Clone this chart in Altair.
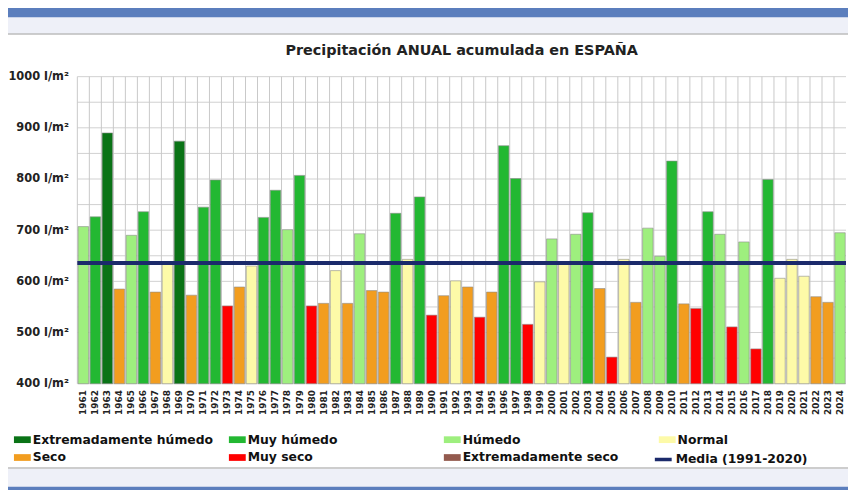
import altair as alt
import pandas as pd

years = ["1961", "1962", "1963", "1964", "1965", "1966", "1967", "1968", "1969", "1970",
         "1971", "1972", "1973", "1974", "1975", "1976", "1977", "1978", "1979", "1980",
         "1981", "1982", "1983", "1984", "1985", "1986", "1987", "1988", "1989", "1990",
         "1991", "1992", "1993", "1994", "1995", "1996", "1997", "1998", "1999", "2000",
         "2001", "2002", "2003", "2004", "2005", "2006", "2007", "2008", "2009", "2010",
         "2011", "2012", "2013", "2014", "2015", "2016", "2017", "2018", "2019", "2020",
         "2021", "2022", "2023", "2024"]

precip = [707, 726, 890, 585, 690, 736, 579, 633, 874, 573,
          745, 798, 552, 589, 630, 725, 778, 701, 807, 552,
          557, 621, 557, 693, 582, 579, 733, 643, 765, 534,
          572, 601, 589, 530, 579, 865, 801, 516, 599, 683,
          636, 692, 734, 586, 452, 643, 559, 704, 649, 835,
          556, 547, 736, 692, 511, 677, 468, 799, 606, 643,
          610, 570, 559, 695]

codes = ["H", "MH", "EH", "S", "H", "MH", "S", "N", "EH", "S",
         "MH", "MH", "MS", "S", "N", "MH", "MH", "H", "MH", "MS",
         "S", "N", "S", "H", "S", "S", "MH", "N", "MH", "MS",
         "S", "N", "S", "MS", "S", "MH", "MH", "MS", "N", "H",
         "N", "H", "MH", "S", "MS", "N", "S", "H", "H", "MH",
         "S", "MS", "MH", "H", "MS", "H", "MS", "MH", "N", "N",
         "N", "S", "S", "H"]

names = {"EH": "Extremadamente húmedo", "MH": "Muy húmedo", "H": "Húmedo",
         "N": "Normal", "S": "Seco", "MS": "Muy seco", "ES": "Extremadamente seco"}

categories = ["Extremadamente húmedo", "Muy húmedo", "Húmedo", "Normal",
              "Seco", "Muy seco", "Extremadamente seco"]
colors = ["#0a7316", "#23b832", "#9eef7e", "#fdfaa8",
          "#f29d1f", "#ff0000", "#935a4e"]

mean_label = ["Media (1991-2020)"]
mean_value = [636]
mean_color = "#1b2a6b"

grid_values = [400, 450, 500, 550, 600, 650, 700, 750, 800, 850, 900, 950, 1000]
y_ticks = [400, 500, 600, 700, 800, 900, 1000]

W, H = 776, 310
FONT = "DejaVu Sans"

df = pd.DataFrame({"year": years, "value": precip, "cat": [names[c] for c in codes]})
mean_df = pd.DataFrame({"cat": mean_label, "value": mean_value})
grid_df = pd.DataFrame({"g": grid_values})
one = pd.DataFrame({"a": [0]})

xscale = alt.Scale(domain=years, paddingInner=0, paddingOuter=0)
yscale = alt.Scale(domain=[400, 1000], nice=False, zero=False, clamp=True)

common_legend = dict(
    title=None, orient="none", direction="horizontal",
    labelFont=FONT, labelFontWeight="bold", labelFontSize=12.5, labelColor="#111111",
    labelLimit=400, labelOffset=2, symbolSize=289,
)
bar_legend = alt.Legend(
    legendX=-64, legendY=358, columns=4, gridAlign="all", columnPadding=15, rowPadding=3,
    symbolType="M-1,-0.4H1V0.4H-1Z", symbolStrokeWidth=0, symbolOpacity=1,
    **common_legend,
)
mean_legend = alt.Legend(
    legendX=581, legendY=376, symbolType="stroke", symbolStrokeColor=mean_color,
    symbolStrokeWidth=3.5, symbolOpacity=1, **common_legend,
)

# frame decorations
top_strip = alt.Chart(one).mark_rect(color="#eef0f8").encode(
    x=alt.value(-80), x2=alt.value(790), y=alt.value(-70), y2=alt.value(-43))
blue_bar = alt.Chart(one).mark_rect(color="#5b7ebd").encode(
    x=alt.value(-80), x2=alt.value(790), y=alt.value(-70), y2=alt.value(-60))
panel = alt.Chart(one).mark_rect(fill=None, stroke="#bdbdbd", strokeWidth=1.5).encode(
    x=alt.value(-73), x2=alt.value(790), y=alt.value(-43), y2=alt.value(395))
bottom_strip = alt.Chart(one).mark_rect(color="#eef0f8").encode(
    x=alt.value(-80), x2=alt.value(790), y=alt.value(396), y2=alt.value(420))
bottom_blue = alt.Chart(one).mark_rect(color="#5b7ebd").encode(
    x=alt.value(-80), x2=alt.value(790), y=alt.value(414), y2=alt.value(420))

hgrid = alt.Chart(grid_df).mark_rule(color="#d0d0d0", strokeWidth=1).encode(
    y=alt.Y("g:Q", scale=yscale))
vgrid = alt.Chart(df).mark_rule(color="#c8c8c8", strokeWidth=1).encode(
    x=alt.X("year:O", scale=xscale, bandPosition=0),
    y=alt.value(0), y2=alt.value(H))

bars = alt.Chart(df).mark_bar(width={"band": 0.87}, stroke="#8c8c8c", strokeWidth=0.6).encode(
    x=alt.X("year:O", scale=xscale, title=None,
            axis=alt.Axis(labelAngle=-90, labelFont=FONT, labelFontWeight="bold",
                          labelFontSize=9, labelColor="#222222", ticks=False,
                          domain=False, grid=False, labelPadding=6)),
    y=alt.Y("value:Q", scale=yscale, title=None,
            axis=alt.Axis(values=y_ticks, labelExpr="datum.value + ' l/m²'",
                          labelFont=FONT, labelFontWeight="bold", labelFontSize=11.5,
                          labelColor="#222222", ticks=False, domain=False, grid=False,
                          labelPadding=9)),
    y2=alt.datum(400),
    color=alt.Color("cat:N", scale=alt.Scale(domain=categories, range=colors),
                    legend=bar_legend),
)

mean_rule = alt.Chart(mean_df).mark_rule(strokeWidth=4, color=mean_color).encode(
    y=alt.Y("value:Q", scale=yscale),
    strokeDash=alt.StrokeDash("cat:N", scale=alt.Scale(domain=mean_label, range=[[1, 0]]),
                              legend=mean_legend),
)

chart = alt.layer(top_strip, blue_bar, bottom_strip, bottom_blue, panel,
                  hgrid, vgrid, bars, mean_rule).properties(
    width=W, height=H,
    title=alt.TitleParams("Precipitación ANUAL acumulada en ESPAÑA", font=FONT,
                          fontSize=14.5, fontWeight="bold", color="#222222",
                          anchor="middle", frame="group", offset=-52),
    autosize=alt.AutoSizeParams(type="none"),
    padding={"left": 70, "top": 67, "right": 2, "bottom": 105},
).configure(background="white").configure_view(stroke=None)

chart.save("out.html", embed_options={"renderer": "svg", "actions": False})
